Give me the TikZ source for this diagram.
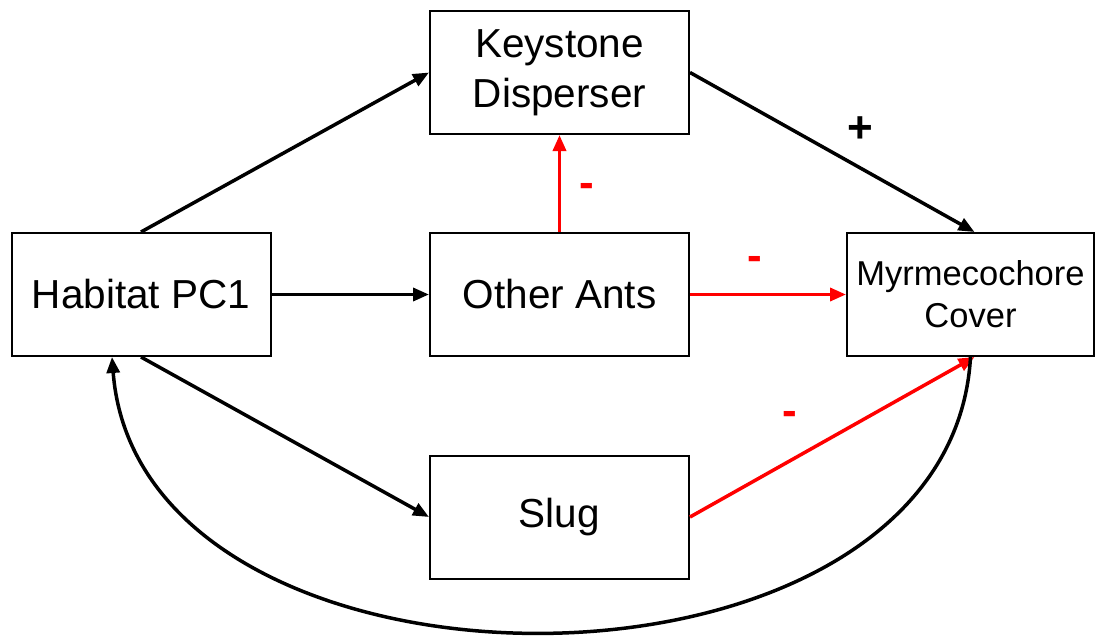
\documentclass[tikz,border=0pt]{standalone}
\usepackage{fontspec}
\setmainfont{Liberation Sans}
\usetikzlibrary{arrows.meta}
\begin{document}
\begin{tikzpicture}[x=1pt,y=-1pt,
  box/.style={draw=black,line width=2pt,rectangle,minimum width=259pt,minimum height=123pt,inner sep=0pt,align=center,font=\fontsize{40.5}{50}\selectfont},
  conn/.style={line width=3.5pt,-{Triangle[length=16pt,width=13pt]}},
  neg/.style={conn,red},
  sign/.style={font=\bfseries\fontsize{44}{44}\selectfont,inner sep=0pt}
]
\useasboundingbox (0,0) rectangle (1095,635);
\node[box] (key) at (559.5,72.5) {Keystone\\Disperser};
\node[box] (hab) at (141,294.5) {Habitat PC1};
\node[box] (oth) at (559.5,294.5) {Other Ants};
\node[box,minimum width=247pt,font=\fontsize{34.5}{42}\selectfont] (myr) at (970.5,294.5) {Myrmecochore\\Cover};
\node[box] (slug) at (559.5,517) {Slug};
\draw[conn] (hab.north) -- (key.west);
\draw[conn] (hab.east) -- (oth.west);
\draw[conn] (hab.south) -- (slug.west);
\draw[conn] (key.east) -- ([xshift=4pt]myr.north);
\draw[neg] (oth.north) -- (key.south);
\draw[neg] (oth.east) -- (myr.west);
\draw[neg] (slug.east) -- ([xshift=4pt]myr.south);
\draw[conn] (myr.south) .. controls (950,723) and (140,723) .. ([xshift=-29pt]hab.south);
\node[sign] (plus) at (860,130) {+};
\node[sign,red] (m1) at (587,190) {-};
\node[sign,red] (m2) at (755,263) {-};
\node[sign,red] (m3) at (790,418) {-};
\end{tikzpicture}
\end{document}
